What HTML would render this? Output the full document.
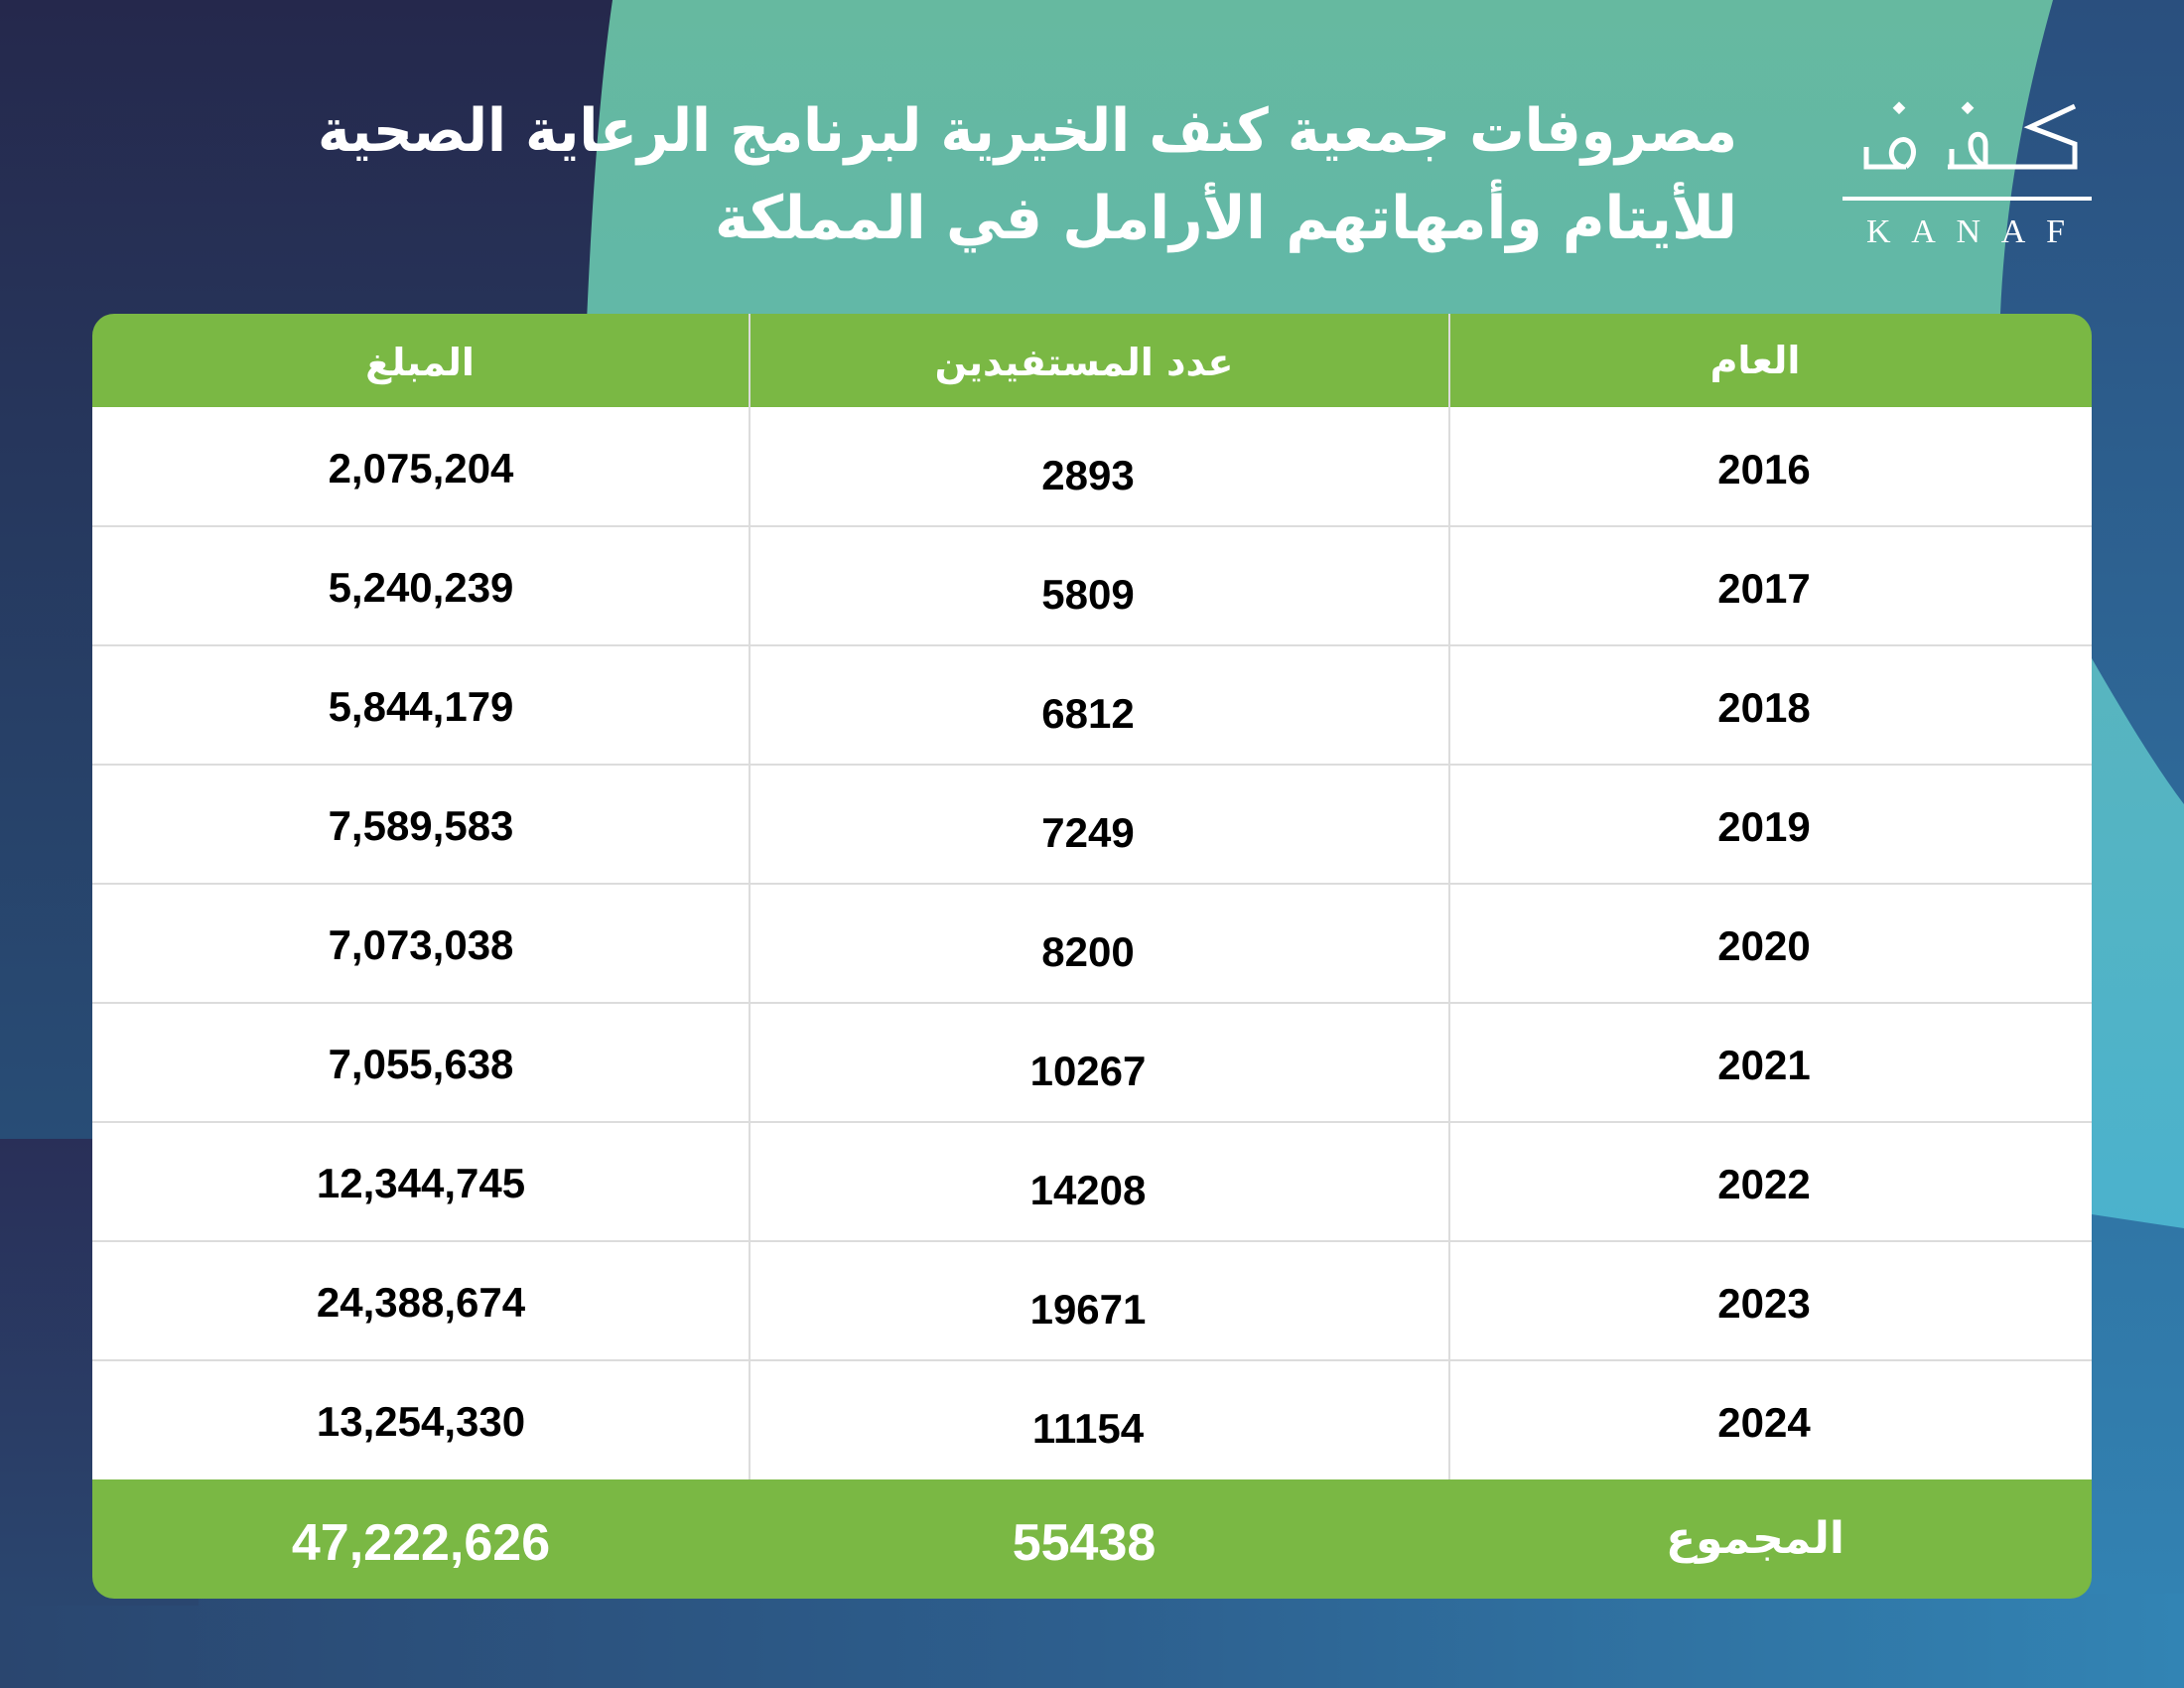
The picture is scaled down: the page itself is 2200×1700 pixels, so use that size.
<!DOCTYPE html>
<html><head><meta charset="utf-8"><style>html,body{margin:0;padding:0;width:2200px;height:1700px;overflow:hidden}svg{display:block}</style></head>
<body>
<svg width="2200" height="1700" viewBox="0 0 2200 1700" xmlns="http://www.w3.org/2000/svg">
<defs>
<linearGradient id="lg1" x1="0" y1="0" x2="0" y2="1"><stop offset="0" stop-color="#25284c"/><stop offset="1" stop-color="#284d76"/></linearGradient>
<linearGradient id="lb" x1="0" y1="0" x2="0" y2="1"><stop offset="0" stop-color="#292f58"/><stop offset="1" stop-color="#2a466f"/></linearGradient>
<linearGradient id="bt" x1="0" y1="0" x2="1" y2="0"><stop offset="0" stop-color="#2a466f"/><stop offset="0.5" stop-color="#2d5f8e"/><stop offset="1" stop-color="#3284b4"/></linearGradient>
<linearGradient id="rg" x1="0" y1="0" x2="0" y2="1"><stop offset="0" stop-color="#2a4f7e"/><stop offset="1" stop-color="#3282b2"/></linearGradient>
<linearGradient id="tg" x1="0" y1="0" x2="0" y2="1"><stop offset="0" stop-color="#66b9a0"/><stop offset="1" stop-color="#5cb6b0"/></linearGradient>
<linearGradient id="cy" x1="0" y1="0" x2="0" y2="1"><stop offset="0" stop-color="#58b5bf"/><stop offset="1" stop-color="#4bb2cd"/></linearGradient>
</defs>
<rect width="2200" height="1700" fill="url(#bt)"/>
<rect x="0" y="1147" width="200" height="470" fill="url(#lb)"/>
<path d="M0 0 H1200 V1140 L0 1147 Z" fill="url(#lg1)"/>
<rect x="1300" y="0" width="900" height="1605" fill="url(#rg)"/>
<path d="M2107 663 C2140 720 2170 770 2200 810 V1237 L2107 1223 Z" fill="url(#cy)"/>
<path d="M617 0 H2068 C2040 100 2020 200 2015 316 V700 H582 C585 400 595 150 617 0 Z" fill="url(#tg)"/>
<!-- title -->
<g fill="#fff" font-family="DejaVu Sans, sans-serif" font-weight="bold" font-size="60" direction="rtl" text-anchor="start">
<text x="1750" y="152" textLength="1430" lengthAdjust="spacingAndGlyphs">مصروفات جمعية كنف الخيرية لبرنامج الرعاية الصحية</text>
<text x="1750" y="240" textLength="1030" lengthAdjust="spacingAndGlyphs">للأيتام وأمهاتهم الأرامل في المملكة</text>
</g>
<!-- logo -->
<g fill="none" stroke="#fff" stroke-width="5">
<path d="M2090 107 L2045 128 L2090 145 V168 H1962"/>
<path d="M2000 168 V145 C2000 132 1985 132 1985 145 C1985 158 1995 165 2000 168"/>
<path d="M1966 150 V168 M1920 168 C1905 168 1900 150 1912 142 C1925 135 1935 155 1920 168 M1920 168 H1880 V148"/>
</g>
<rect x="1978" y="104" width="9" height="9" fill="#fff" transform="rotate(45 1982 108)"/>
<rect x="1909" y="104" width="9" height="9" fill="#fff" transform="rotate(45 1913 108)"/>
<rect x="1856" y="198" width="251" height="4" fill="#fff"/>
<text x="1980" y="244" fill="#fff" font-family="Liberation Serif, serif" font-size="34" text-anchor="middle" textLength="200" lengthAdjust="spacing">KANAF</text>
<!-- table -->
<rect x="93" y="316" width="2014" height="1294" rx="22" fill="#7ab844"/>
<rect x="93" y="410" width="2014" height="1080" fill="#fff"/>
<g stroke="#dcdcdc" stroke-width="2">
<line x1="755" y1="316" x2="755" y2="1490"/><line x1="1460" y1="316" x2="1460" y2="1490"/>
<line x1="93" y1="530" x2="2107" y2="530"/><line x1="93" y1="650" x2="2107" y2="650"/><line x1="93" y1="770" x2="2107" y2="770"/><line x1="93" y1="890" x2="2107" y2="890"/><line x1="93" y1="1010" x2="2107" y2="1010"/><line x1="93" y1="1130" x2="2107" y2="1130"/><line x1="93" y1="1250" x2="2107" y2="1250"/><line x1="93" y1="1370" x2="2107" y2="1370"/>
</g>
<g fill="#fff" font-family="DejaVu Sans, sans-serif" font-weight="bold" font-size="38" text-anchor="middle">
<text x="423" y="378">المبلغ</text>
<text x="1092" y="378">عدد المستفيدين</text>
<text x="1768" y="376">العام</text>
<text x="1768" y="1564" font-size="44">المجموع</text>
</g>
<g fill="#000" font-family="Liberation Sans, sans-serif" font-weight="bold" font-size="42" text-anchor="middle">
<text x="424" y="486">2,075,204</text><text x="1096" y="493">2893</text><text x="1777" y="487">2016</text>
<text x="424" y="606">5,240,239</text><text x="1096" y="613">5809</text><text x="1777" y="607">2017</text>
<text x="424" y="726">5,844,179</text><text x="1096" y="733">6812</text><text x="1777" y="727">2018</text>
<text x="424" y="846">7,589,583</text><text x="1096" y="853">7249</text><text x="1777" y="847">2019</text>
<text x="424" y="966">7,073,038</text><text x="1096" y="973">8200</text><text x="1777" y="967">2020</text>
<text x="424" y="1086">7,055,638</text><text x="1096" y="1093">10267</text><text x="1777" y="1087">2021</text>
<text x="424" y="1206">12,344,745</text><text x="1096" y="1213">14208</text><text x="1777" y="1207">2022</text>
<text x="424" y="1326">24,388,674</text><text x="1096" y="1333">19671</text><text x="1777" y="1327">2023</text>
<text x="424" y="1446">13,254,330</text><text x="1096" y="1453">11154</text><text x="1777" y="1447">2024</text>
</g>
<g fill="#fff" font-family="Liberation Sans, sans-serif" font-weight="bold" font-size="52" text-anchor="middle">
<text x="424" y="1571">47,222,626</text><text x="1092" y="1571">55438</text>
</g>
</svg>
</body></html>
